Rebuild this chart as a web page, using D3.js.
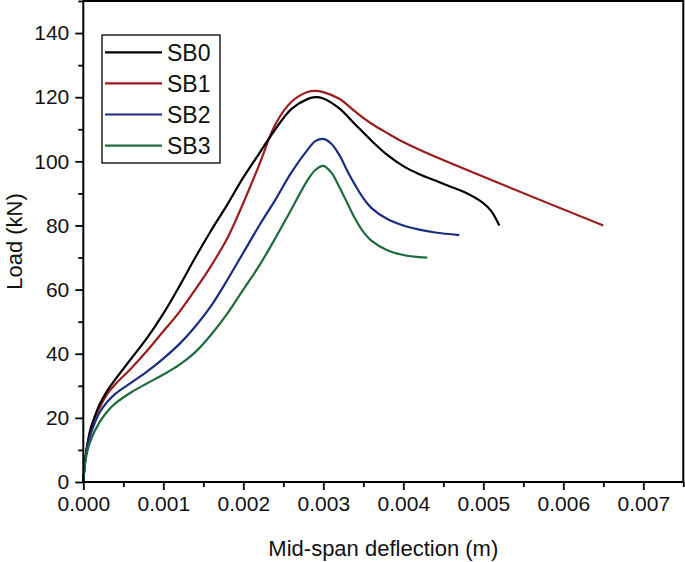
<!DOCTYPE html>
<html><head><meta charset="utf-8">
<script src="https://cdn.jsdelivr.net/npm/d3@7"></script>
<style>body{margin:0;background:#fff}svg{display:block}text{font-family:Arial,"Liberation Sans",sans-serif}</style>
</head><body><svg id="c" width="685" height="562"></svg>
<script>
const seriesNames = ["SB0","SB1","SB2","SB3"];
const seriesColors = ["#000000","#9b1c1c","#1a2d80","#1e6b3c"];
const sb0 = [[0,0],[0.00002,6],[0.00005,11.5],[0.0001,17],[0.0002,24],[0.0003,28.5],[0.0004,32],[0.0006,38.5],[0.0008,45],[0.001,52.5],[0.0012,61],[0.0014,70],[0.0016,78.5],[0.0018,86.5],[0.002,95],[0.0022,102.5],[0.0024,110],[0.0026,116.3],[0.0028,119.4],[0.0029,120],[0.003,119.6],[0.0032,116.5],[0.0034,111.5],[0.0036,106.5],[0.0038,102],[0.004,98.5],[0.0042,96],[0.0044,94],[0.0046,92],[0.0048,90],[0.005,87],[0.0051,84.5],[0.0052,80]];
const sb1 = [[0,0],[0.00002,6],[0.00006,13],[0.0001,17.5],[0.0002,23],[0.0003,27.5],[0.0004,30.5],[0.0006,35.5],[0.0008,41],[0.001,47],[0.0012,53],[0.0014,60],[0.0016,67.5],[0.0018,76],[0.002,87],[0.0022,99],[0.0024,111.5],[0.0026,118.5],[0.0028,121.6],[0.0029,122],[0.003,121.6],[0.0032,119.5],[0.0034,115.5],[0.0036,111.8],[0.0038,108.8],[0.004,106],[0.0043,102.5],[0.0065,80]];
const sb2 = [[0,0],[0.00002,6],[0.00005,11],[0.0001,15.5],[0.0002,21.5],[0.0003,25],[0.0004,27.5],[0.0006,31],[0.0008,34.5],[0.001,38.5],[0.0012,43],[0.0014,48.5],[0.0016,55],[0.0018,63],[0.002,71.5],[0.0022,80],[0.0024,88],[0.0026,96.5],[0.0028,103.5],[0.0029,106.3],[0.003,107],[0.0031,105.5],[0.0032,102],[0.0033,97],[0.0034,92.5],[0.0035,88.5],[0.0036,85.5],[0.0038,82],[0.004,80],[0.0042,78.7],[0.0044,77.8],[0.0047,77]];
const sb3 = [[0,0],[0.00001,3],[0.00003,7],[0.00006,10.5],[0.0001,13.5],[0.0002,18.5],[0.0003,22],[0.0004,24.5],[0.0006,28],[0.0008,30.8],[0.001,33.5],[0.0012,36.5],[0.0014,40.5],[0.0016,46],[0.0018,52.5],[0.002,60],[0.0022,67.5],[0.0024,76],[0.0026,85],[0.0028,94],[0.0029,97.3],[0.003,98.6],[0.0031,96.5],[0.0032,92],[0.0033,87],[0.0034,82],[0.0035,78],[0.0036,75.3],[0.0038,72.3],[0.004,70.8],[0.0042,70.1],[0.0043,70]];
const xTicks = [0,0.001,0.002,0.003,0.004,0.005,0.006,0.007];
const xMinor = [0.0005,0.0015,0.0025,0.0035,0.0045,0.0055,0.0065,0.0075];
const yTicks = [0,20,40,60,80,100,120,140];
const yMinor = [10,30,50,70,90,110,130,150];
const xTitle = "Mid-span deflection (m)";
const yTitle = "Load (kN)";

const svg = d3.select("#c");
const L = 83.3, R = 683.3, T = 1, B = 482;
const x = d3.scaleLinear().domain([0,0.0075]).range([L,R]);
const y = d3.scaleLinear().domain([0,150]).range([B,T]);

const line = d3.line().x(d=>x(d[0])).y(d=>y(d[1])).curve(d3.curveCatmullRom.alpha(0.5));
const data = [sb0,sb1,sb2,sb3];
[1,0,2,3].forEach(i=>{
  svg.append("path").attr("d",line(data[i])).attr("fill","none")
    .attr("stroke",seriesColors[i]).attr("stroke-width",2.2).attr("stroke-linejoin","round");
});

// frame
svg.append("rect").attr("x",L).attr("y",T).attr("width",R-L).attr("height",B-T)
  .attr("fill","none").attr("stroke","#000").attr("stroke-width",2);

// x axis
const gx = svg.append("g").attr("transform",`translate(0,${B})`)
  .call(d3.axisBottom(x).tickValues(xTicks).tickFormat(d3.format(".3f")).tickSize(8).tickPadding(6));
svg.append("g").attr("transform",`translate(0,${B})`)
  .call(d3.axisBottom(x).tickValues(xMinor).tickFormat("").tickSize(5));
// y axis
const gy = svg.append("g").attr("transform",`translate(${L},0)`)
  .call(d3.axisLeft(y).tickValues(yTicks).tickSize(8).tickPadding(6));
svg.append("g").attr("transform",`translate(${L},0)`)
  .call(d3.axisLeft(y).tickValues(yMinor).tickFormat("").tickSize(5));
svg.selectAll(".domain").remove();
svg.selectAll(".tick line").attr("stroke","#000").attr("stroke-width",1.8);
gx.selectAll("text").attr("font-size",21).attr("fill","#111").attr("font-family","Arial, 'Liberation Sans', sans-serif");
gy.selectAll("text").attr("font-size",21).attr("fill","#111").attr("font-family","Arial, 'Liberation Sans', sans-serif");

// titles
svg.append("text").attr("x",(L+R)/2).attr("y",556).attr("text-anchor","middle")
  .attr("font-size",22).attr("fill","#111").text(xTitle);
svg.append("text").attr("transform",`translate(22,${(T+B)/2}) rotate(-90)`).attr("text-anchor","middle")
  .attr("font-size",22).attr("fill","#111").text(yTitle);

// legend
const lg = svg.append("g");
lg.append("rect").attr("x",102).attr("y",35).attr("width",118).attr("height",128)
  .attr("fill","#fff").attr("stroke","#000").attr("stroke-width",1.3);
seriesNames.forEach((n,i)=>{
  const yy = 52.3 + i*31.1;
  lg.append("line").attr("x1",105).attr("x2",162).attr("y1",yy).attr("y2",yy)
    .attr("stroke",seriesColors[i]).attr("stroke-width",2.2);
  lg.append("text").attr("x",167).attr("y",yy+8.5).attr("font-size",23).attr("fill","#111").text(n);
});
</script></body></html>
